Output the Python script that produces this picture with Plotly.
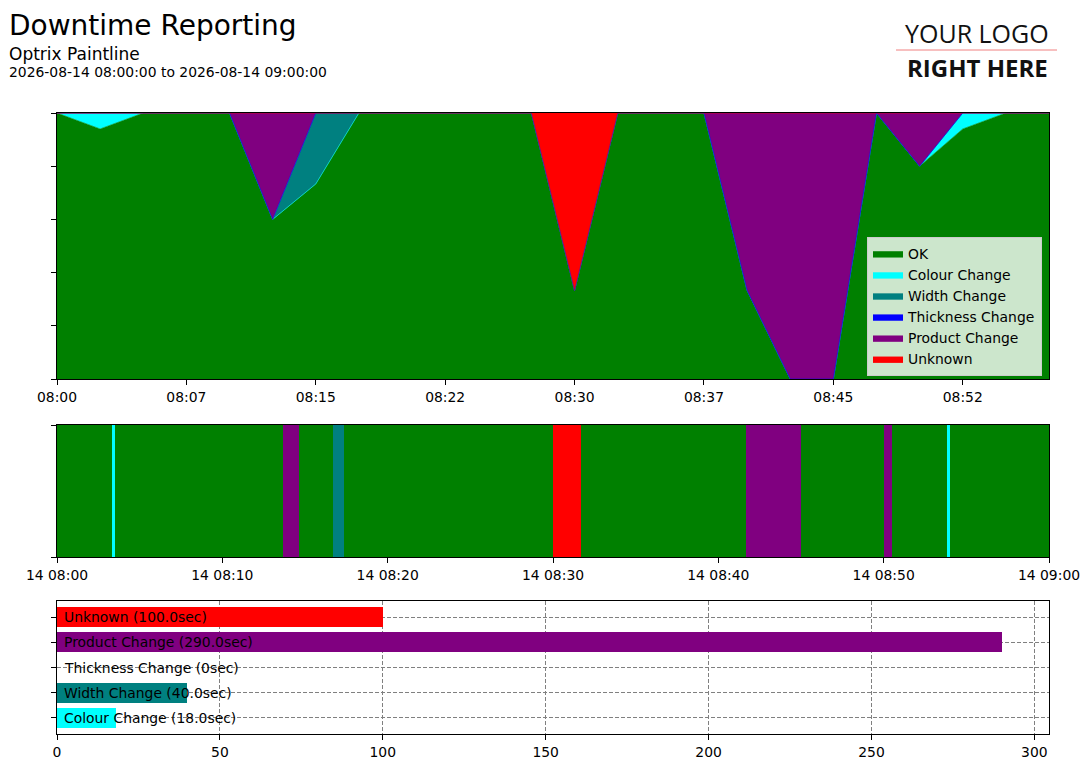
import plotly.graph_objects as go
import pandas as pd

# ---------------- data ----------------
state_names = ["OK", "Colour Change", "Width Change", "Thickness Change", "Product Change", "Unknown"]
state_colors = ["#008000", "#00ffff", "#008080", "#0000ff", "#800080", "#ff0000"]

# top chart: share of each state per 2.5-minute bucket (percent)
bucket_times = [
    "2026-08-14 08:00:00", "2026-08-14 08:02:30", "2026-08-14 08:05:00", "2026-08-14 08:07:30",
    "2026-08-14 08:10:00", "2026-08-14 08:12:30", "2026-08-14 08:15:00", "2026-08-14 08:17:30",
    "2026-08-14 08:20:00", "2026-08-14 08:22:30", "2026-08-14 08:25:00", "2026-08-14 08:27:30",
    "2026-08-14 08:30:00", "2026-08-14 08:32:30", "2026-08-14 08:35:00", "2026-08-14 08:37:30",
    "2026-08-14 08:40:00", "2026-08-14 08:42:30", "2026-08-14 08:45:00", "2026-08-14 08:47:30",
    "2026-08-14 08:50:00", "2026-08-14 08:52:30", "2026-08-14 08:55:00", "2026-08-14 08:57:30",
]
ok_pct        = [100, 94, 100, 100, 100, 60, 73.3, 100, 100, 100, 100, 100, 33.3, 100, 100, 100, 33.3, 0, 0, 100, 80, 94, 100, 100]
colour_pct    = [0, 6, 0, 0, 0, 0, 0, 0, 0, 0, 0, 0, 0, 0, 0, 0, 0, 0, 0, 0, 0, 6, 0, 0]
width_pct     = [0, 0, 0, 0, 0, 0, 26.7, 0, 0, 0, 0, 0, 0, 0, 0, 0, 0, 0, 0, 0, 0, 0, 0, 0]
thickness_pct = [0, 0, 0, 0, 0, 0, 0, 0, 0, 0, 0, 0, 0, 0, 0, 0, 0, 0, 0, 0, 0, 0, 0, 0]
product_pct   = [0, 0, 0, 0, 0, 40, 0, 0, 0, 0, 0, 0, 0, 0, 0, 0, 66.7, 100, 100, 0, 20, 0, 0, 0]
unknown_pct   = [0, 0, 0, 0, 0, 0, 0, 0, 0, 0, 0, 0, 66.7, 0, 0, 0, 0, 0, 0, 0, 0, 0, 0, 0]
top_tick_times = [
    "2026-08-14 08:00:00", "2026-08-14 08:07:30", "2026-08-14 08:15:00", "2026-08-14 08:22:30",
    "2026-08-14 08:30:00", "2026-08-14 08:37:30", "2026-08-14 08:45:00", "2026-08-14 08:52:30",
]
top_range = ["2026-08-14 08:00:00", "2026-08-14 08:57:30"]

# middle chart: timeline of stoppages
period_start = "2026-08-14 08:00:00"
period_end = "2026-08-14 09:00:00"
event_states = ["Colour Change", "Product Change", "Width Change", "Unknown",
                "Product Change", "Product Change", "Colour Change"]
event_start = ["2026-08-14 08:03:20", "2026-08-14 08:13:40", "2026-08-14 08:16:40", "2026-08-14 08:30:00",
               "2026-08-14 08:41:40", "2026-08-14 08:50:00", "2026-08-14 08:53:51"]
event_end = ["2026-08-14 08:03:29", "2026-08-14 08:14:40", "2026-08-14 08:17:20", "2026-08-14 08:31:40",
             "2026-08-14 08:45:00", "2026-08-14 08:50:30", "2026-08-14 08:54:00"]
mid_tick_times = ["2026-08-14 08:00:00", "2026-08-14 08:10:00", "2026-08-14 08:20:00", "2026-08-14 08:30:00",
                  "2026-08-14 08:40:00", "2026-08-14 08:50:00", "2026-08-14 09:00:00"]

# bottom chart: totals
summary_states = ["Colour Change", "Width Change", "Thickness Change", "Product Change", "Unknown"]
summary_secs = [18.0, 40.0, 0, 290.0, 100.0]
bottom_ticks = [0, 50, 100, 150, 200, 250, 300]

# ---------------- figure ----------------
W, H = 1089, 768
FONT = "DejaVu Sans"
FS = 13.9
color_of = dict(zip(state_names, state_colors))

def px_x(p):
    return p / W

def px_y(p):
    return 1 - p / H

fig = go.Figure()

top_series = [ok_pct, colour_pct, width_pct, thickness_pct, product_pct, unknown_pct]
for name, col, vals in zip(state_names, state_colors, top_series):
    fig.add_trace(go.Scatter(
        x=bucket_times, y=vals, name=name, mode="lines", stackgroup="one",
        line=dict(color=col, width=0.6), fillcolor=col, xaxis="x", yaxis="y",
        hoverinfo="skip",
    ))

def dur_ms(a, b):
    return (pd.Timestamp(b) - pd.Timestamp(a)).total_seconds() * 1000.0

fig.add_trace(go.Bar(
    y=[0], x=[dur_ms(period_start, period_end)], base=[period_start], orientation="h",
    width=1, marker=dict(color=color_of["OK"], line=dict(width=0)),
    xaxis="x2", yaxis="y2", showlegend=False, hoverinfo="skip",
))
fig.add_trace(go.Bar(
    y=[0] * len(event_states),
    x=[dur_ms(s, e) for s, e in zip(event_start, event_end)],
    base=event_start, orientation="h", width=1,
    marker=dict(color=[color_of[s] for s in event_states], line=dict(width=0)),
    xaxis="x2", yaxis="y2", showlegend=False, hoverinfo="skip",
))

fig.add_trace(go.Bar(
    y=summary_states, x=summary_secs, orientation="h", width=0.8,
    marker=dict(color=[color_of[s] for s in summary_states], line=dict(width=0)),
    xaxis="x3", yaxis="y3", showlegend=False, hoverinfo="skip",
))

label_offset = 2
for s, v in zip(summary_states, summary_secs):
    txt = f"{s} ({v:.1f}sec)" if v else f"{s} (0sec)"
    fig.add_annotation(x=label_offset, y=s, xref="x3", yref="y3", text=txt, showarrow=False,
                       xanchor="left", yanchor="middle", font=dict(family=FONT, size=FS, color="black"),
                       borderpad=0, xshift=-1)

xdom = [px_x(57), px_x(1049)]
axis_common = dict(showline=True, linecolor="black", linewidth=1, mirror=True,
                   ticks="outside", ticklen=5, tickcolor="black", tickwidth=1,
                   showgrid=False, zeroline=False, automargin=False,
                   tickfont=dict(family=FONT, size=FS, color="black"))
grid_common = dict(showgrid=True, gridcolor="#808080", griddash="4px,2px", gridwidth=1)

fig.update_layout(
    template="none",
    width=W, height=H, margin=dict(l=0, r=0, t=0, b=0, pad=0), autosize=False,
    paper_bgcolor="white", plot_bgcolor="white",
    font=dict(family=FONT, size=FS, color="black"),
    barmode="overlay", bargap=0,
    xaxis=dict(domain=xdom, anchor="y", type="date", range=top_range,
               tickvals=top_tick_times, tickformat="%H:%M", **axis_common),
    yaxis=dict(domain=[px_y(379), px_y(113)], anchor="x", range=[0, 100],
               tickvals=[0, 20, 40, 60, 80, 100], showticklabels=False, **axis_common),
    xaxis2=dict(domain=xdom, anchor="y2", type="date", range=[period_start, period_end],
                tickvals=mid_tick_times, tickformat="%d %H:%M", **axis_common),
    yaxis2=dict(domain=[px_y(557), px_y(425)], anchor="x2", range=[-0.5, 0.5],
                tickvals=[-0.5, 0.5], showticklabels=False, **axis_common),
    xaxis3=dict(domain=xdom, anchor="y3", range=[0, 304.5], tickvals=bottom_ticks,
                **{**axis_common, **grid_common}),
    yaxis3=dict(domain=[px_y(734), px_y(601)], anchor="x3", type="category",
                categoryorder="array", categoryarray=summary_states, range=[-0.64, 4.64],
                showticklabels=False, **{**axis_common, **grid_common}),
    legend=dict(x=px_x(1042), xanchor="right", y=px_y(376), yanchor="bottom",
                bgcolor="rgba(255,255,255,0.8)", bordercolor="#cccccc", borderwidth=1,
                traceorder="normal", itemwidth=30,
                font=dict(family=FONT, size=FS, color="black")),
)

fig.add_annotation(x=px_x(8), y=px_y(25), xref="paper", yref="paper", text="Downtime Reporting",
                   showarrow=False, xanchor="left", yanchor="middle", borderpad=0,
                   font=dict(family=FONT, size=28, color="black"))
fig.add_annotation(x=px_x(8), y=px_y(54), xref="paper", yref="paper", text="Optrix Paintline",
                   showarrow=False, xanchor="left", yanchor="middle", borderpad=0,
                   font=dict(family=FONT, size=17, color="black"))
fig.add_annotation(x=px_x(8), y=px_y(71.5), xref="paper", yref="paper",
                   text="2026-08-14 08:00:00 to 2026-08-14 09:00:00",
                   showarrow=False, xanchor="left", yanchor="middle", borderpad=0,
                   font=dict(family=FONT, size=13.9, color="black"))

fig.add_annotation(x=px_x(977), y=px_y(33), xref="paper", yref="paper", text="YOUR LOGO",
                   showarrow=False, xanchor="center", yanchor="middle", borderpad=0,
                   font=dict(family="Open Sans", size=25, color="#111111"))
fig.add_annotation(x=px_x(977), y=px_y(68), xref="paper", yref="paper", text="<b>RIGHT HERE</b>",
                   showarrow=False, xanchor="center", yanchor="middle", borderpad=0,
                   font=dict(family="Open Sans", size=24, color="#111111"))
fig.add_shape(type="line", xref="paper", yref="paper", x0=px_x(896), x1=px_x(1057),
              y0=px_y(50), y1=px_y(50), line=dict(color="#f08080", width=1))

fig.write_html("out.html", config={"displayModeBar": False},
               post_script="document.body.style.margin='0px';")
